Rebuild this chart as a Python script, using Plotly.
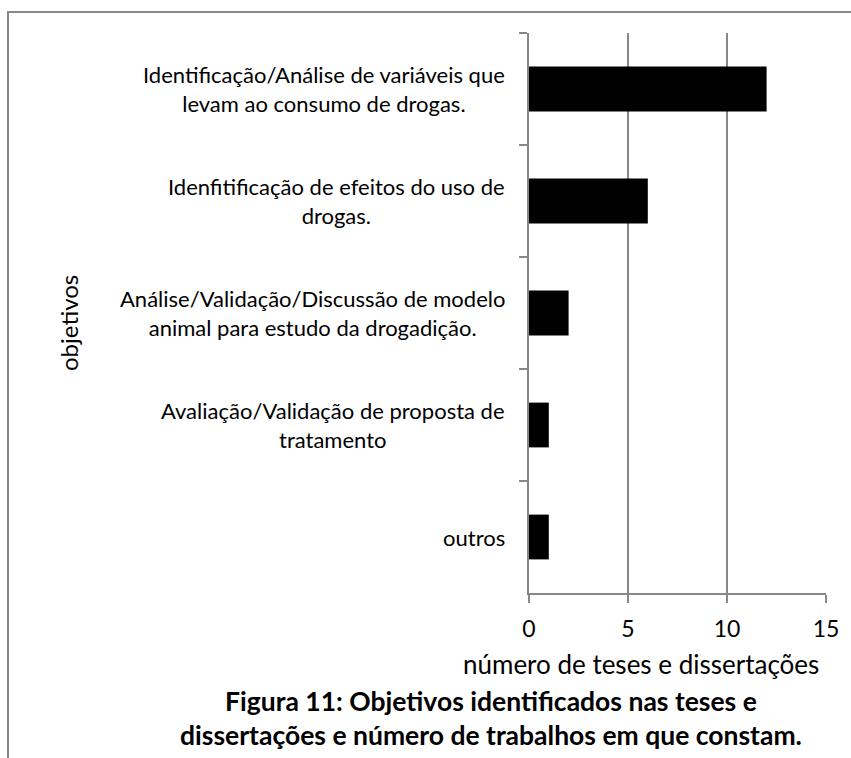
import plotly.graph_objects as go

# Objectives found in the theses and dissertations, top to bottom
categorias = [
    "Identificação/Análise de variáveis que<br>levam ao consumo de drogas.",
    "Idenfitificação de efeitos do uso de<br>drogas.",
    "Análise/Validação/Discussão de modelo<br>animal para estudo da drogadição.",
    "Avaliação/Validação de proposta de<br>tratamento",
    "outros",
]
chaves = ["c1", "c2", "c3", "c4", "c5"]
valores = [12, 6, 2, 1, 1]
ticks_x = [0, 5, 10, 15]

W, H = 851, 758
L, R, T, B = 529, 25, 33, 165
PW, PH = W - L - R, H - T - B

def px(x):
    return (x - L) / PW

def py(y):
    return (H - B - y) / PH

FONT = "Lato, Carlito, Calibri, sans-serif"
GRAY = "#888888"

fig = go.Figure()
fig.add_trace(go.Bar(
    x=valores, y=chaves, orientation="h", width=0.4,
    marker=dict(color="#000000", line=dict(width=0)),
    hoverinfo="skip",
))

fig.update_layout(
    width=W, height=H,
    margin=dict(l=L, r=R, t=T, b=B),
    paper_bgcolor="white", plot_bgcolor="white",
    showlegend=False,
    font=dict(family=FONT, color="#000000"),
    xaxis=dict(
        range=[0, 15], tickvals=ticks_x, ticktext=[str(v) for v in ticks_x],
        showgrid=True, gridcolor=GRAY, gridwidth=2,
        showline=True, linecolor=GRAY, linewidth=2,
        ticks="outside", ticklen=8, tickwidth=2, tickcolor=GRAY,
        tickfont=dict(size=23, family=FONT), ticklabelstandoff=6,
        zeroline=False, fixedrange=True,
    ),
    yaxis=dict(
        type="category", categoryorder="array", categoryarray=chaves,
        autorange="reversed", tickson="boundaries",
        showticklabels=False, showgrid=False,
        showline=True, linecolor=GRAY, linewidth=2,
        ticks="outside", ticklen=8, tickwidth=2, tickcolor=GRAY,
        zeroline=False, fixedrange=True,
    ),
)

# Category labels, centred lines, right edge beside the axis
for k, txt in zip(chaves, categorias):
    fig.add_annotation(
        x=px(507), y=k, xref="paper", yref="y", text=txt, showarrow=False,
        xanchor="right", yanchor="middle", align="center",
        font=dict(size=22, family=FONT),
    )

# Axis titles
fig.add_annotation(
    x=px(641), y=py(664), xref="paper", yref="paper",
    text="número de teses e dissertações", showarrow=False,
    xanchor="center", yanchor="middle", font=dict(size=26, family=FONT),
)
fig.add_annotation(
    x=px(69), y=py(323), xref="paper", yref="paper", text="objetivos",
    showarrow=False, textangle=-90, xanchor="center", yanchor="middle",
    font=dict(size=24, family=FONT),
)

# Figure caption
fig.add_annotation(
    x=px(491), y=py(718), xref="paper", yref="paper",
    text="<b>Figura 11: Objetivos identificados nas teses e<br>"
         "dissertações e número de trabalhos em que constam.</b>",
    showarrow=False, xanchor="center", yanchor="middle", align="center",
    font=dict(size=26.5, family=FONT),
)

# Frame around the chart area (left and top edges)
fig.add_shape(
    type="path", xref="paper", yref="paper",
    path=f"M {px(8)},{py(H + 5)} L {px(8)},{py(12)} L {px(W + 5)},{py(12)}",
    line=dict(color=GRAY, width=2),
)

fig.write_html("out.html", config={"displayModeBar": False})
